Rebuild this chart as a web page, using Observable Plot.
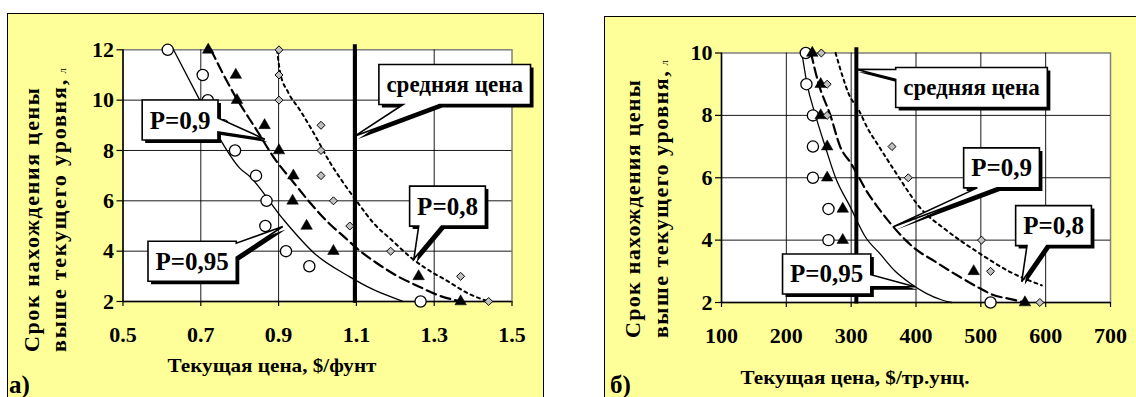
<!DOCTYPE html>
<html>
<head>
<meta charset="utf-8">
<script src="https://cdn.jsdelivr.net/npm/d3@7"></script>
<script src="https://cdn.jsdelivr.net/npm/@observablehq/plot@0.6"></script>
<style>
  html, body { margin: 0; padding: 0; background: #fff; }
  body { width: 1136px; height: 397px; overflow: hidden; position: relative;
         font-family: "Liberation Serif", "Times New Roman", serif; }
  .panel { position: absolute; box-sizing: border-box; background: #FFFF99; border: 1.5px solid #000; }
  .chart { position: absolute; top: 0; }
  .chart svg { overflow: visible; }
  .chart text, #overlay text { font-family: "Liberation Serif", "Times New Roman", serif !important; font-weight: bold !important; fill: #000; }
  #overlay { position: absolute; left: 0; top: 0; pointer-events: none; }
</style>
</head>
<body>
<div class="panel" style="left:7px; top:13px; width:537px; height:400px;"></div>
<div class="panel" style="left:604px; top:16px; width:600px; height:400px;"></div>
<div id="chartA" class="chart" style="left:0px;"></div>
<div id="chartB" class="chart" style="left:600px;"></div>
<svg id="overlay" width="1136" height="397"></svg>
<script>
// ---------------- Panel а) : price $/lb ----------------
const xTicksA = [0.5, 0.7, 0.9, 1.1, 1.3, 1.5];
const yTicksA = [2, 4, 6, 8, 10, 12];
const meanA = 1.096;

const circA_x = [0.615, 0.705, 0.718, 0.758, 0.788, 0.842, 0.869, 0.866, 0.919, 0.979, 1.265];
const circA_y = [12, 11, 10, 9, 8, 7, 6, 5, 4, 3.4, 2];
const triA_x  = [0.719, 0.79, 0.793, 0.864, 0.901, 0.938, 0.936, 0.972, 1.041, 1.26, 1.368];
const triA_y  = [12, 11, 10, 9, 8, 7, 6, 5, 4, 3, 2];
const diaA_x  = [0.901, 0.901, 0.901, 1.009, 1.009, 1.009, 1.041, 1.083, 1.188, 1.368, 1.44];
const diaA_y  = [12, 11, 10, 9, 8, 7, 6, 5, 4, 3, 2];

const c95A_x = [0.63, 0.694, 0.744, 0.80, 0.827, 0.91, 0.993, 1.083, 1.14, 1.196, 1.22];
const c95A_y = [12, 10.1, 8.6, 7.3, 6.95, 5.3, 3.9, 2.98, 2.5, 2.14, 2.0];
const c90A_x = [0.726, 0.785, 0.844, 0.887, 0.94, 0.985, 1.03, 1.07, 1.11, 1.15, 1.21, 1.26, 1.31, 1.37];
const c90A_y = [12, 10.25, 8.8, 7.74, 6.7, 5.85, 5.1, 4.55, 4.0, 3.55, 2.97, 2.6, 2.25, 2.0];
const c80A_x = [0.896, 0.904, 0.925, 0.955, 0.99, 1.033, 1.065, 1.1, 1.145, 1.19, 1.24, 1.28, 1.33, 1.39, 1.44];
const c80A_y = [12, 11.1, 10.3, 9.6, 8.7, 7.5, 6.75, 6.0, 5.1, 4.45, 3.75, 3.3, 2.85, 2.3, 2.0];

// ---------------- Panel б) : price $/troy oz ----------------
const xTicksB = [100, 200, 300, 400, 500, 600, 700];
const yTicksB = [2, 4, 6, 8, 10];
const meanB = 308;

const circB_x = [230, 231, 241, 241, 241, 265, 265, 515];
const circB_y = [10, 9, 8, 7, 6, 5, 4, 2];
const triB_x  = [240, 253, 253, 263, 263, 287, 287, 489, 568];
const triB_y  = [10, 9, 8, 7, 6, 5, 4, 3, 2];
const diaB_x  = [254, 263, 263, 363, 388, 501, 515, 591];
const diaB_y  = [10, 9, 8, 7, 6, 4, 3, 2];

const c95B_x = [224, 232, 245, 260, 276, 299, 322, 345, 368, 392, 415, 440, 455];
const c95B_y = [10, 9, 8, 7, 6, 5.05, 4.1, 3.55, 3.0, 2.6, 2.3, 2.08, 2.0];
const c90B_x = [238, 250, 268, 283, 300, 307, 323, 343, 364, 384, 400, 425, 466, 497, 517, 548, 568];
const c90B_y = [10, 9, 8, 7, 6.45, 6.2, 5.6, 5.0, 4.45, 4.0, 3.7, 3.37, 2.84, 2.47, 2.26, 2.1, 2.0];
const c80B_x = [276, 286, 296, 312, 325, 343, 363, 374, 405, 446, 497, 548, 594];
const c80B_y = [10, 9.3, 8.7, 8.16, 7.6, 7.0, 6.35, 6.0, 5.07, 4.33, 3.59, 2.95, 2.55];

// ---------------- Callouts (anchored in data units) ----------------
const calloutsA = [
  {text: "средняя цена", bx: 1.354, by: 10.60, tx: 1.098, ty: 8.56, side: "bottom", f0: 0.16, f1: 0.40, size: 23},
  {text: "P=0,9",        bx: 0.648, by: 9.19,  tx: 0.866, ty: 8.43, side: "right",  f0: 0.45, f1: 0.80, size: 25},
  {text: "P=0,95",       bx: 0.679, by: 3.58,  tx: 0.912, ty: 4.96, side: "right",  f0: 0.05, f1: 0.40, size: 25},
  {text: "P=0,8",        bx: 1.3355, by: 5.77, tx: 1.249, ty: 3.67, side: "bottom", f0: 0.12, f1: 0.42, size: 25}
];
const calloutsB = [
  {text: "средняя цена", bx: 486.4, by: 8.88, tx: 308, ty: 9.46, side: "left",   f0: 0.05, f1: 0.30, size: 23},
  {text: "P=0,9",        bx: 532.7, by: 6.30, tx: 365.8, ty: 4.41, side: "bottom", f0: 0.18, f1: 0.44, size: 25},
  {text: "P=0,8",        bx: 612.9, by: 4.45, tx: 563.8, ty: 2.65, side: "bottom", f0: 0.15, f1: 0.41, size: 25},
  {text: "P=0,95",       bx: 263,   by: 2.90, tx: 399.2, ty: 2.49, side: "right",  f0: 0.52, f1: 0.82, size: 25}
];

const FONT = "'Liberation Serif','Times New Roman',serif";
const zip = (xs, ys) => xs.map((x, i) => ({x, y: ys[i]}));
const axisText = {fontSize: 22, fontWeight: "bold", fontFamily: FONT, fill: "#000"};

function makeChart(cfg, container) {
  const chart = Plot.plot({
    width: cfg.width, height: 397,
    marginLeft: cfg.ml, marginRight: cfg.mr, marginTop: cfg.mt, marginBottom: cfg.mb,
    style: {background: "transparent", color: "#000", fontFamily: FONT, fontWeight: "bold", fontSize: "22px", overflow: "visible"},
    x: {domain: [cfg.xTicks[0], cfg.xTicks[cfg.xTicks.length - 1]]},
    y: {domain: [cfg.yTicks[0], cfg.yTicks[cfg.yTicks.length - 1]]},
    marks: [
      Plot.frame({fill: "#fff", stroke: "#808080", strokeWidth: 1.5}),
      Plot.gridX(cfg.xTicks.slice(1, -1), {stroke: "#000", strokeOpacity: 0.9, strokeWidth: 1}),
      Plot.gridY(cfg.yTicks.slice(1, -1), {stroke: "#000", strokeOpacity: 0.9, strokeWidth: 1}),
      Plot.axisX(cfg.xTicks, {tickSize: 5, tickPadding: 20, label: null, tickFormat: cfg.fmt, strokeWidth: 1.2, ...axisText}),
      Plot.axisY(cfg.yTicks, {tickSize: 6, tickPadding: 3, label: null, strokeWidth: 1.2, ...axisText}),
      Plot.ruleY([cfg.yTicks[0]], {stroke: "#000", strokeWidth: 1.5}),
      Plot.ruleX([cfg.xTicks[0]], {stroke: "#000", strokeWidth: 1.5}),
      Plot.line(cfg.c95, {x: "x", y: "y", curve: "monotone-x", stroke: "#000", strokeWidth: 1.3}),
      Plot.line(cfg.c90, {x: "x", y: "y", curve: "monotone-x", stroke: "#000", strokeWidth: 2.2, strokeDasharray: "10,5"}),
      Plot.line(cfg.c80, {x: "x", y: "y", curve: "monotone-x", stroke: "#000", strokeWidth: 2, strokeDasharray: "3,4"}),
      Plot.ruleX([cfg.mean], {y1: cfg.meanY1, y2: cfg.meanY2, stroke: "#000", strokeWidth: 4}),
      Plot.dot(cfg.circ, {x: "x", y: "y", symbol: "circle", r: 5.6, fill: "#fff", stroke: "#000", strokeWidth: 1.3}),
      Plot.dot(cfg.tri, {x: "x", y: "y", symbol: "triangle", r: 4.3, fill: "#000", stroke: "#000", strokeWidth: 0.5}),
      Plot.dot(cfg.dia, {x: "x", y: "y", symbol: "diamond2", r: 3.6, fill: "#c0c0c0", stroke: "#000", strokeWidth: 1})
    ]
  });
  container.appendChild(chart);
  d3.select(chart).selectAll("text")
    .style("font-weight", "bold").style("font-family", FONT).style("font-size", "22px");
  const sx = chart.scale("x"), sy = chart.scale("y");
  const g = d3.select(chart).append("g").attr("class", "callouts");
  for (const c of cfg.callouts) drawCallout(g, sx, sy, c);
  return chart;
}

function drawCallout(g, sx, sy, c) {
  const cx = sx.apply(c.bx), cy = sy.apply(c.by);
  const tip = [sx.apply(c.tx), sy.apply(c.ty)];
  const grp = g.append("g");
  const shadow = grp.append("path").attr("fill", "#000");
  const body = grp.append("path").attr("fill", "#fff").attr("stroke", "#000").attr("stroke-width", 1.6).attr("stroke-linejoin", "miter");
  const t = grp.append("text").attr("x", cx).attr("y", cy).attr("text-anchor", "middle")
    .attr("dy", "0.34em").style("font-size", c.size + "px").attr("fill", "#000").text(c.text);
  let tw = t.node().getComputedTextLength();
  if (!tw) tw = c.text.length * c.size * 0.5;
  const w = tw + 15, h = 40;
  const x0 = cx - w / 2, x1 = cx + w / 2, y0 = cy - h / 2, y1 = cy + h / 2;
  let pts;
  if (c.side === "bottom") {
    const a = [x0 + c.f0 * w, y1], b = [x0 + c.f1 * w, y1];
    pts = [[x0, y0], [x1, y0], [x1, y1], b, tip, a, [x0, y1]];
  } else if (c.side === "right") {
    const a = [x1, y0 + c.f0 * h], b = [x1, y0 + c.f1 * h];
    pts = [[x0, y0], [x1, y0], a, tip, b, [x1, y1], [x0, y1]];
  } else {
    const a = [x0, y0 + c.f0 * h], b = [x0, y0 + c.f1 * h];
    pts = [[x0, y0], [x1, y0], [x1, y1], [x0, y1], b, tip, a];
  }
  const d = "M" + pts.map(p => p.join(",")).join("L") + "Z";
  shadow.attr("d", d).attr("transform", "translate(3,3)");
  body.attr("d", d);
}

makeChart({
  width: 560, ml: 122.5, mr: 560 - 511.5, mt: 49.3, mb: 397 - 301,
  xTicks: xTicksA, yTicks: yTicksA, fmt: d3.format(".1f"),
  mean: meanA, meanY1: 1.93, meanY2: 12.2,
  circ: zip(circA_x, circA_y), tri: zip(triA_x, triA_y), dia: zip(diaA_x, diaA_y),
  c95: zip(c95A_x, c95A_y), c90: zip(c90A_x, c90A_y), c80: zip(c80A_x, c80A_y),
  callouts: calloutsA
}, document.getElementById("chartA"));

makeChart({
  width: 536, ml: 121, mr: 536 - 510, mt: 52.5, mb: 397 - 302,
  xTicks: xTicksB, yTicks: yTicksB, fmt: d3.format("d"),
  mean: meanB, meanY1: 1.95, meanY2: 10.17,
  circ: zip(circB_x, circB_y), tri: zip(triB_x, triB_y), dia: zip(diaB_x, diaB_y),
  c95: zip(c95B_x, c95B_y), c90: zip(c90B_x, c90B_y), c80: zip(c80B_x, c80B_y),
  callouts: calloutsB
}, document.getElementById("chartB"));

// ---------------- Titles and panel letters ----------------
const yTitle1 = "Срок нахождения цены";
const yTitle2 = "выше текущего уровня,";
const yTitleUnit = " л";
const xTitleA = "Текущая цена, $/фунт";
const xTitleB = "Текущая цена, $/тр.унц.";
const panelLabels = ["а)", "б)"];

const ov = d3.select("#overlay");
function vText(x, yb, len, str, unit) {
  const t = ov.append("text")
    .attr("transform", `translate(${x},${yb}) rotate(-90)`)
    .attr("text-anchor", "start").attr("dy", "0.35em")
    .style("font-size", "22px")
    .attr("textLength", len).attr("lengthAdjust", "spacing").text(str);
  if (unit) t.append("tspan").style("font-size", "11px").style("font-weight", "normal").text(unit);
}
vText(31, 352, 264, yTitle1);
vText(58, 352, 284, yTitle2, yTitleUnit);
vText(632, 338, 258, yTitle1);
vText(660, 338, 278, yTitle2, yTitleUnit);

function hText(cx, y, len, str) {
  ov.append("text").attr("x", cx).attr("y", y).attr("text-anchor", "middle")
    .style("font-size", "19px")
    .attr("textLength", len).attr("lengthAdjust", "spacingAndGlyphs").text(str);
}
hText(272, 372, 209, xTitleA);
hText(855, 384, 229, xTitleB);

ov.append("text").attr("x", 9).attr("y", 393).style("font-size", "25px").text(panelLabels[0]);
ov.append("text").attr("x", 610).attr("y", 393).style("font-size", "25px").text(panelLabels[1]);
</script>
</body>
</html>
